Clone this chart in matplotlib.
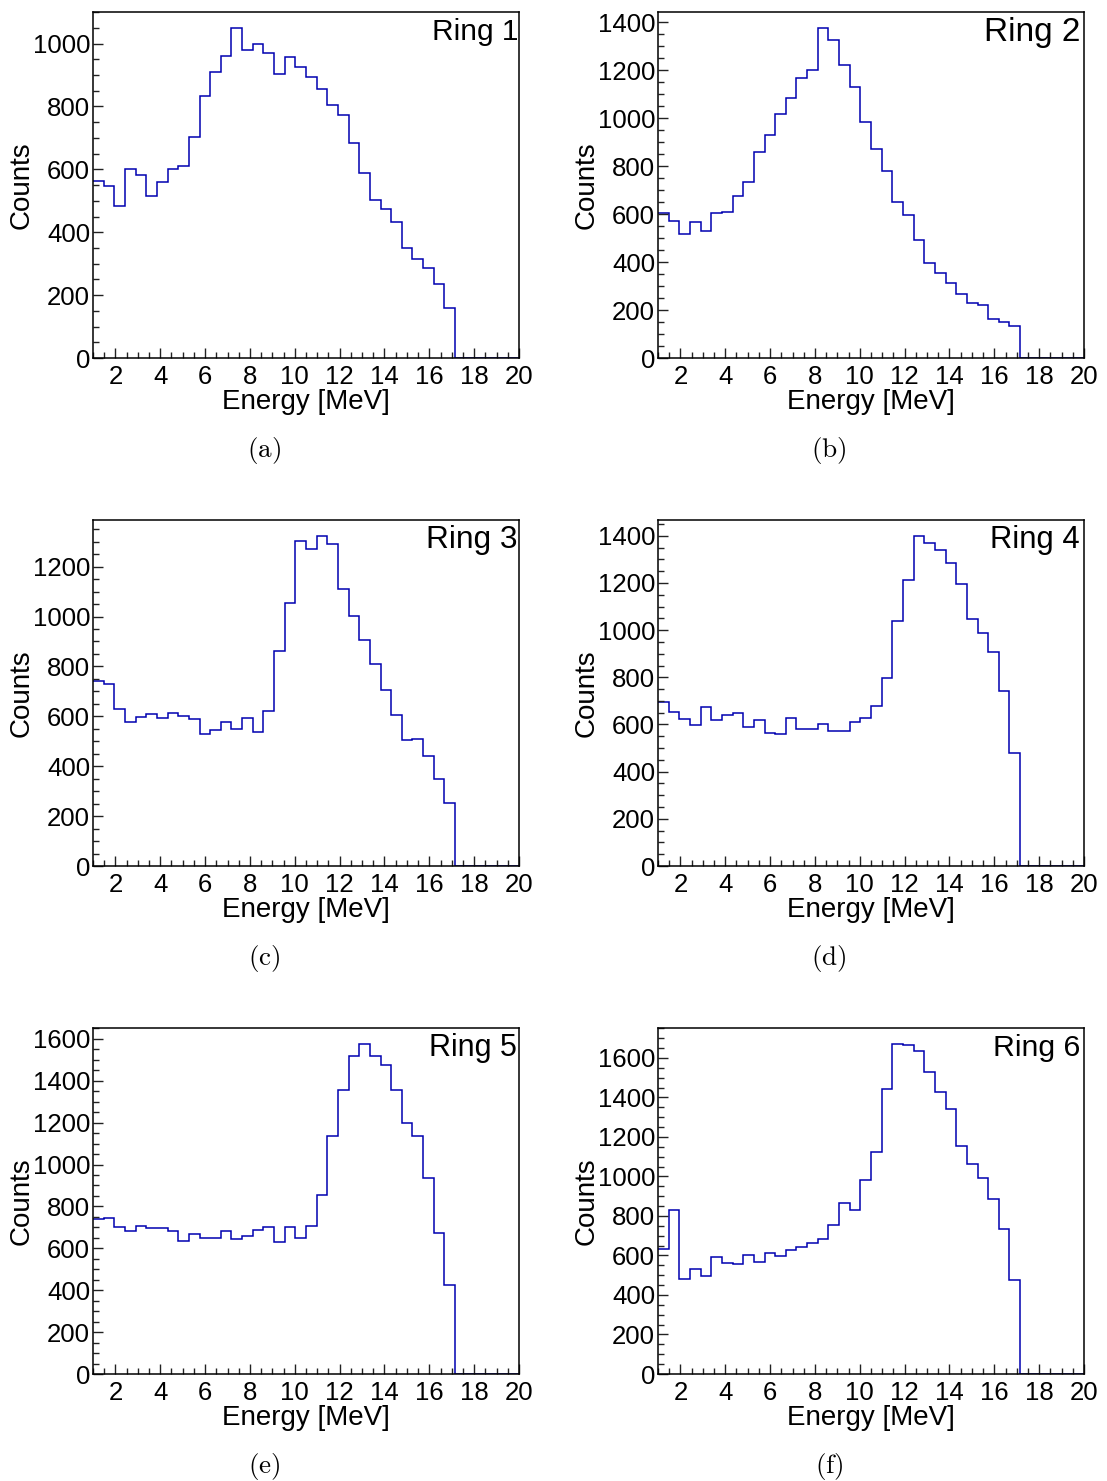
import matplotlib
matplotlib.use("Agg")
import matplotlib.pyplot as plt
import numpy as np
from matplotlib.ticker import MultipleLocator

plt.rcParams['font.family'] = ['Liberation Sans', 'DejaVu Sans']
plt.rcParams['mathtext.fontset'] = 'cm'

# 40 bins from 1 to 20 MeV, only the first 34 bins have counts
bin_edges = np.linspace(1, 20, 41)
n_empty = 6

ring1 = [563, 548, 485, 601, 583, 516, 560, 602, 612, 702, 833, 910, 961, 1048,
         979, 999, 969, 903, 958, 927, 894, 857, 805, 774, 684, 588, 504, 475,
         434, 349, 315, 285, 234, 158]
ring2 = [607, 572, 519, 567, 532, 607, 610, 678, 735, 861, 929, 1019, 1085, 1168,
         1201, 1375, 1325, 1224, 1132, 983, 872, 781, 650, 597, 493, 396, 353, 315,
         265, 231, 222, 161, 149, 132]
ring3 = [743, 728, 629, 577, 596, 609, 595, 613, 601, 591, 531, 547, 579, 551,
         592, 536, 623, 860, 1053, 1301, 1272, 1321, 1292, 1112, 1001, 905, 809,
         705, 607, 504, 511, 441, 349, 253]
ring4 = [694, 654, 625, 598, 672, 618, 639, 650, 591, 619, 565, 560, 627, 582,
         579, 603, 572, 571, 609, 626, 680, 797, 1039, 1211, 1397, 1370, 1339,
         1286, 1194, 1049, 988, 908, 740, 479]
ring5 = [740, 743, 703, 684, 705, 695, 698, 684, 633, 668, 648, 648, 683, 643,
         657, 689, 702, 632, 702, 651, 708, 854, 1137, 1356, 1516, 1573, 1516,
         1475, 1356, 1197, 1135, 937, 673, 425]
ring6 = [635, 830, 483, 530, 497, 593, 562, 557, 601, 567, 614, 598, 628, 645,
         665, 685, 756, 867, 828, 983, 1126, 1441, 1668, 1663, 1633, 1527, 1428,
         1343, 1155, 1062, 993, 884, 732, 476]

rings = [ring1, ring2, ring3, ring4, ring5, ring6]
titles = ["Ring 1", "Ring 2", "Ring 3", "Ring 4", "Ring 5", "Ring 6"]
captions = ["(a)", "(b)", "(c)", "(d)", "(e)", "(f)"]
x_ticks = [2, 4, 6, 8, 10, 12, 14, 16, 18, 20]

# label sizes / right insets differ a bit between panels in the original
title_sizes = [21.5, 24, 22.8, 22.3, 22, 21.8]
title_inset = [0, 4, 2, 4, 2, 4]

W, H = 1107, 1481
fig = plt.figure(figsize=(W / 100, H / 100), dpi=100)

col_left = [93, 658]
row_top = [12, 520, 1028]
ax_w, ax_h = 426, 346

for i, counts in enumerate(rings):
    r, c = divmod(i, 2)
    x0 = col_left[c]
    y0 = row_top[r]
    ax = fig.add_axes([x0 / W, 1 - (y0 + ax_h) / H, ax_w / W, ax_h / H])

    values = np.array(counts + [0] * n_empty, dtype=float)
    ax.stairs(values, bin_edges, baseline=None, color='#0000b0', linewidth=1.1, zorder=1)

    ax.set_xlim(1, 20)
    ax.set_ylim(0, 1.05 * max(counts))
    ax.set_xticks(x_ticks)
    ax.xaxis.set_minor_locator(MultipleLocator(0.5))
    ax.yaxis.set_major_locator(MultipleLocator(200))
    ax.yaxis.set_minor_locator(MultipleLocator(50))
    ax.tick_params(which='both', direction='in', top=False, right=False,
                   labelsize=18.5, width=1.0, color='#222222')
    ax.tick_params(which='major', length=7.5)
    ax.tick_params(which='minor', length=4)
    ax.tick_params(axis='x', pad=5)
    ax.tick_params(axis='y', pad=2)
    for s in ax.spines.values():
        s.set_linewidth(1.1)
        s.set_zorder(3)

    ax.set_xlabel("Energy [MeV]", fontsize=20, labelpad=0)
    ax.set_ylabel("Counts", fontsize=20)
    ax.yaxis.set_label_coords(-0.136, 0.5)

    ax.text(1 - title_inset[i] / ax_w, 1 - 20 / ax_h, titles[i], transform=ax.transAxes,
            ha='right', va='center', fontsize=title_sizes[i])

    cx = [264, 829][c]
    cy = y0 + ax_h + 92
    fig.text(cx / W, 1 - cy / H, r"$\mathrm{" + captions[i] + "}$",
             ha='center', va='center', fontsize=19.5)

fig.savefig("out.png", dpi=100)
